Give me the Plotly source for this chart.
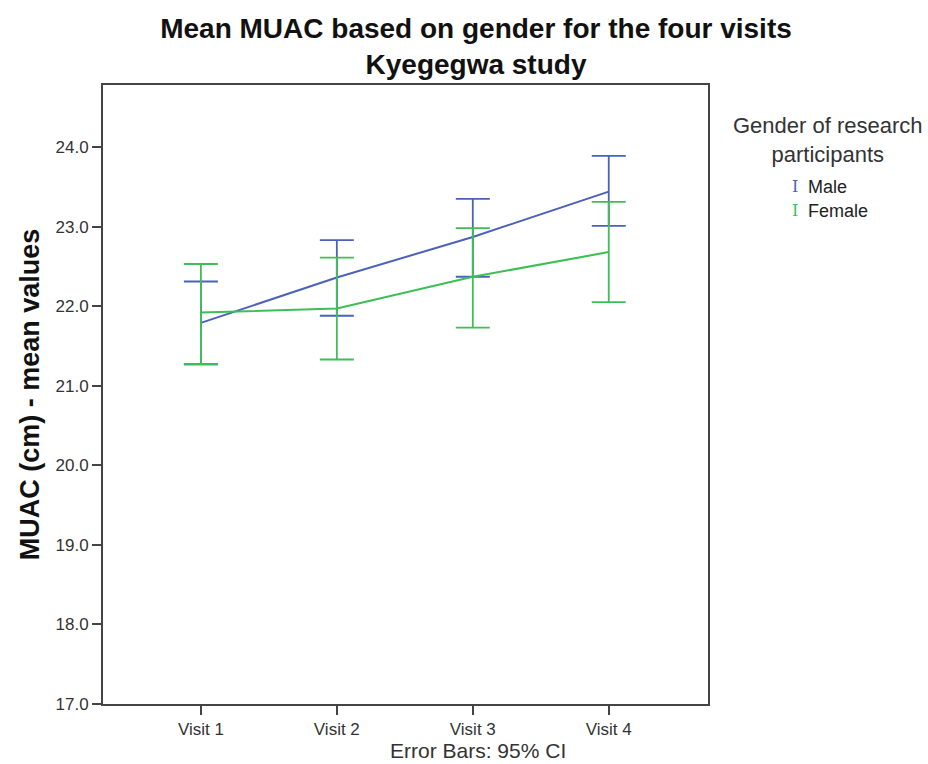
import plotly.graph_objects as go

# Visits and mean MUAC (cm) with 95% CI bounds by gender
visits = ["Visit 1", "Visit 2", "Visit 3", "Visit 4"]

male_mean = [21.79, 22.36, 22.87, 23.44]
male_lower = [21.27, 21.88, 22.37, 23.01]
male_upper = [22.31, 22.83, 23.35, 23.89]

female_mean = [21.92, 21.97, 22.37, 22.68]
female_lower = [21.27, 21.33, 21.73, 22.05]
female_upper = [22.53, 22.61, 22.98, 23.31]

y_ticks = [17.0, 18.0, 19.0, 20.0, 21.0, 22.0, 23.0, 24.0]

MALE_COLOR = "#4A62B8"
FEMALE_COLOR = "#3CBF54"
FONT = "Liberation Sans, Arial, sans-serif"

fig = go.Figure()


def add_series(name, mean, lower, upper, color):
    fig.add_trace(go.Scatter(
        x=list(range(len(visits))),
        y=mean,
        mode="lines",
        name=name,
        line=dict(color=color, width=2),
        error_y=dict(
            type="data",
            symmetric=False,
            array=[u - m for u, m in zip(upper, mean)],
            arrayminus=[m - l for m, l in zip(mean, lower)],
            color=color,
            thickness=1.8,
            width=17,
        ),
        showlegend=False,
    ))


add_series("Male", male_mean, male_lower, male_upper, MALE_COLOR)
add_series("Female", female_mean, female_lower, female_upper, FEMALE_COLOR)

axis_line = dict(showline=True, linecolor="#444444", linewidth=2, mirror=True,
                 showgrid=False, zeroline=False, ticks="outside", ticklen=9,
                 tickcolor="#444444", tickwidth=2)

fig.update_xaxes(
    tickmode="array",
    tickvals=list(range(len(visits))),
    ticktext=visits,
    range=[-0.72, 3.73],
    tickfont=dict(family=FONT, size=17, color="#333333"),
    **axis_line,
)
fig.update_yaxes(
    tickmode="array",
    tickvals=y_ticks,
    ticktext=[f"{v:.1f}" for v in y_ticks],
    range=[17.0, 24.78],
    tickfont=dict(family=FONT, size=17, color="#333333"),
    title=dict(text="<b>MUAC (cm) - mean values</b>", standoff=8,
               font=dict(family=FONT, size=27, color="#111111")),
    **axis_line,
)

# Axis caption and legend (title plus error-bar glyph for each gender)
annotations = [
    dict(x=478, y=751, text="Error Bars: 95% CI",
         font=dict(family=FONT, size=21, color="#333333")),
    dict(x=828, y=140, text="Gender of research<br>participants",
         font=dict(family=FONT, size=22, color="#333333")),
    dict(x=795, y=186, text="I", xanchor="center",
         font=dict(family="DejaVu Serif", size=16, color=MALE_COLOR)),
    dict(x=806, y=187, text="Male", xanchor="left",
         font=dict(family=FONT, size=18, color="#222222")),
    dict(x=795, y=210, text="I", xanchor="center",
         font=dict(family="DejaVu Serif", size=16, color=FEMALE_COLOR)),
    dict(x=806, y=211, text="Female", xanchor="left",
         font=dict(family=FONT, size=18, color="#222222")),
]
plot_l, plot_r, plot_t, plot_b = 103, 708, 85, 704
W, H = 928, 764
ann_list = []
for a in annotations:
    px, py = a.pop("x"), a.pop("y")
    ann_list.append(dict(
        xref="paper", yref="paper",
        x=(px - plot_l) / (plot_r - plot_l),
        y=(plot_b - py) / (plot_b - plot_t),
        showarrow=False, yanchor="middle",
        **({"xanchor": "center"} | a),
    ))

fig.update_layout(
    width=W, height=H,
    margin=dict(l=plot_l, r=W - plot_r, t=plot_t, b=H - plot_b),
    paper_bgcolor="white",
    plot_bgcolor="white",
    title=dict(
        text="<b>Mean MUAC based on gender for the four visits<br>Kyegegwa study</b>",
        x=476 / W, xanchor="center", y=1 - 38 / H, yanchor="middle",
        font=dict(family=FONT, size=28, color="#111111"),
    ),
    annotations=ann_list,
)

fig.write_html("out.html")
